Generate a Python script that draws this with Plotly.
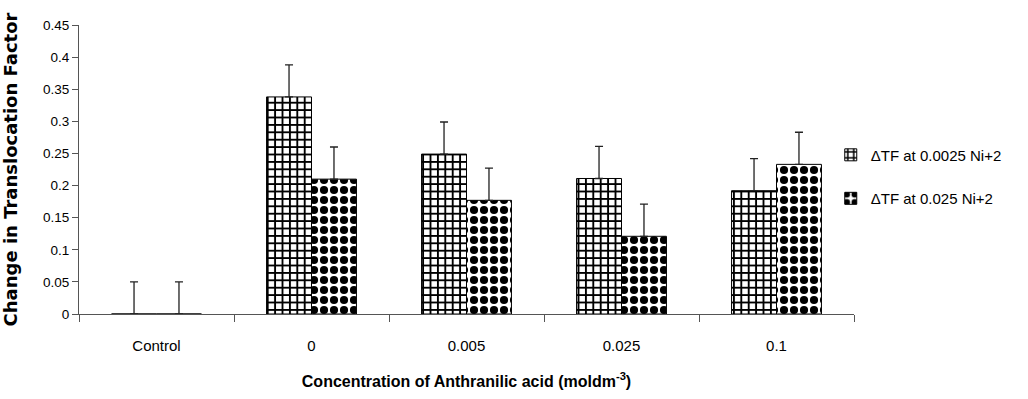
import plotly.graph_objects as go

categories = ["Control", "0", "0.005", "0.025", "0.1"]
tf_0025 = [0.0, 0.338, 0.249, 0.211, 0.192]
tf_025 = [0.0, 0.210, 0.177, 0.121, 0.233]
err_0025 = [0.05, 0.05, 0.05, 0.05, 0.05]
err_025 = [0.05, 0.05, 0.05, 0.05, 0.05]
y_ticks = [0, 0.05, 0.1, 0.15, 0.2, 0.25, 0.3, 0.35, 0.4, 0.45]
y_ticktext = ["0", "0.05", "0.1", "0.15", "0.2", "0.25", "0.3", "0.35", "0.4", "0.45"]

FONT = "Liberation Sans, Arial, sans-serif"

fig = go.Figure()
fig.add_trace(go.Bar(
    x=categories, y=tf_0025, name="ΔTF at 0.0025 Ni+2", legendgroup="a",
    marker=dict(color="white", line=dict(color="black", width=1),
                pattern=dict(shape="+", fgcolor="#000000", bgcolor="white", fgopacity=1,
                             size=7.4, solidity=0.45)),
    error_y=dict(type="data", array=err_0025, arrayminus=[0]*5, symmetric=False,
                 color="#222222", thickness=1.3, width=4),
))
fig.add_trace(go.Bar(
    x=categories, y=tf_025, name="ΔTF at 0.025 Ni+2", legendgroup="b",
    marker=dict(color="white", line=dict(color="black", width=1),
                pattern=dict(shape=".", fgcolor="#000000", bgcolor="white", fgopacity=1,
                             size=10, solidity=0.52)),
    error_y=dict(type="data", array=err_025, arrayminus=[0]*5, symmetric=False,
                 color="#222222", thickness=1.3, width=4),
))

fig.update_layout(
    width=1028, height=399,
    margin=dict(l=79, r=174, t=25, b=85, autoexpand=False),
    paper_bgcolor="white", plot_bgcolor="white",
    barmode="group", bargap=0.42, bargroupgap=0,
    font=dict(family=FONT, color="black"),
    showlegend=True,
    legend=dict(x=0.97, xanchor="left", y=0.607, yanchor="top",
                font=dict(size=15, family=FONT), tracegroupgap=21,
                bgcolor="rgba(0,0,0,0)", itemwidth=30),
    xaxis=dict(
        showline=True, linecolor="#555555", linewidth=1, layer="above traces",
        ticks="outside", tickson="boundaries", ticklen=7, tickcolor="#555555",
        tickfont=dict(size=15, family=FONT), ticklabelstandoff=18,
        showgrid=False, zeroline=False,
        title=dict(text="<b>Concentration of Anthranilic acid (moldm<sup>-3</sup>)</b>",
                   font=dict(size=16, family=FONT), standoff=22),
    ),
    yaxis=dict(
        range=[0, 0.45], tickvals=y_ticks, ticktext=y_ticktext,
        showline=True, linecolor="#555555", linewidth=1,
        ticks="outside", ticklen=6, tickcolor="#555555",
        tickfont=dict(size=13.5, family=FONT),
        showgrid=False, zeroline=False,
        title=dict(text="<b>Change in Translocation Factor</b>",
                   font=dict(size=18, family="DejaVu Sans, sans-serif"), standoff=20),
    ),
)

fig.write_html("out.html", config={"displayModeBar": False})
with open("out.html", encoding="utf-8") as f:
    html = f.read()
html = html.replace("<body>", '<body style="margin:0;padding:0">', 1)
with open("out.html", "w", encoding="utf-8") as f:
    f.write(html)
